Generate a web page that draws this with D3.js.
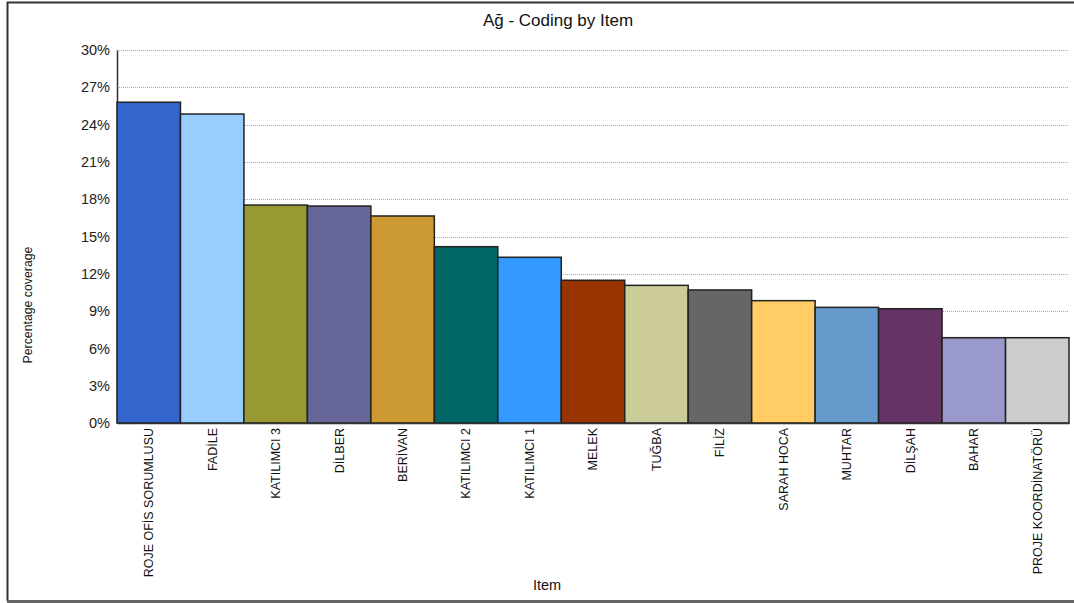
<!DOCTYPE html>
<html><head><meta charset="utf-8">
<script src="https://cdn.jsdelivr.net/npm/d3@7"></script>
<style>body{margin:0;background:#fff;} svg{display:block;font-family:"Liberation Sans",Arial,sans-serif;}</style>
</head><body>
<svg id="c" width="1074" height="603"></svg>
<script>
const categories = ["ROJE OFİS SORUMLUSU","FADİLE","KATILIMCI 3","DİLBER","BERİVAN","KATILIMCI 2","KATILIMCI 1","MELEK","TUĞBA","FİLİZ","SARAH HOCA","MUHTAR","DİLŞAH","BAHAR","PROJE KOORDİNATÖRÜ"];
const values = [25.8, 24.85, 17.53, 17.45, 16.65, 14.18, 13.33, 11.48, 11.07, 10.7, 9.84, 9.3, 9.19, 6.86, 6.86];
const colors = ["#3366CC","#99CCFF","#999933","#666699","#CC9933","#006666","#3399FF","#993300","#CCCC99","#666666","#FFCC66","#6699CC","#663366","#9999CC","#CCCCCC"];
const yTicks = [0,3,6,9,12,15,18,21,24,27,30];
const title = "Ağ - Coding by Item";
const xTitle = "Item";
const yTitle = "Percentage coverage";

const svg = d3.select("#c");
const m = {left:117, right:1069, top:50, bottom:423};
const x = d3.scaleBand().domain(categories).range([m.left, m.right]).padding(0);
const y = d3.scaleLinear().domain([0,30]).range([m.bottom, m.top]);

// frame
svg.append("line").attr("x1",7).attr("x2",1074).attr("y1",2.5).attr("y2",2.5).attr("stroke","#333").attr("stroke-width",2);
svg.append("line").attr("x1",7.5).attr("x2",7.5).attr("y1",2).attr("y2",601).attr("stroke","#333").attr("stroke-width",2);
svg.append("line").attr("x1",7).attr("x2",1074).attr("y1",601.5).attr("y2",601.5).attr("stroke","#666").attr("stroke-width",3);

// gridlines
svg.append("g").selectAll("line").data(yTicks.filter(d=>d>0)).join("line")
  .attr("x1",m.left).attr("x2",m.right).attr("y1",d=>Math.round(y(d))+0.5).attr("y2",d=>Math.round(y(d))+0.5)
  .attr("stroke","#aaa").attr("stroke-width",1).attr("stroke-dasharray","1,1");

// y axis
const ya = svg.append("g").attr("transform",`translate(${m.left},0)`)
  .call(d3.axisLeft(y).tickValues(yTicks).tickFormat(d=>d+"%").tickSize(0).tickPadding(7));
ya.select(".domain").attr("stroke","#333").attr("stroke-width",1.5);
ya.selectAll("text").attr("font-size",14.5).attr("fill","#222").attr("font-family","Liberation Sans, Arial, sans-serif");

// bars
svg.append("g").selectAll("rect").data(categories).join("rect")
  .attr("x",d=>x(d)).attr("width",x.bandwidth())
  .attr("y",(d,i)=>y(values[i])).attr("height",(d,i)=>y(0)-y(values[i]))
  .attr("fill",(d,i)=>colors[i]).attr("stroke","#222").attr("stroke-width",1.5);

// x axis
const xa = svg.append("g").attr("transform",`translate(0,${m.bottom})`)
  .call(d3.axisBottom(x).tickSize(0).tickPadding(0));
xa.select(".domain").attr("stroke","#333").attr("stroke-width",1.5);
xa.selectAll("text").attr("font-size",12.5).attr("fill","#111")
  .attr("font-family","Liberation Sans, Arial, sans-serif")
  .attr("text-anchor","end").attr("dy","0.35em")
  .attr("transform","translate(0,5) rotate(-90)").attr("x",0).attr("y",0);

// titles
svg.append("text").attr("x",558).attr("y",26).attr("text-anchor","middle").attr("font-size",17).attr("fill","#111").text(title);
svg.append("text").attr("x",547).attr("y",590).attr("text-anchor","middle").attr("font-size",14.5).attr("fill","#111").text(xTitle);
svg.append("text").attr("transform","translate(32,305) rotate(-90)").attr("text-anchor","middle").attr("font-size",12.3).attr("fill","#111").text(yTitle);
</script>
</body></html>
